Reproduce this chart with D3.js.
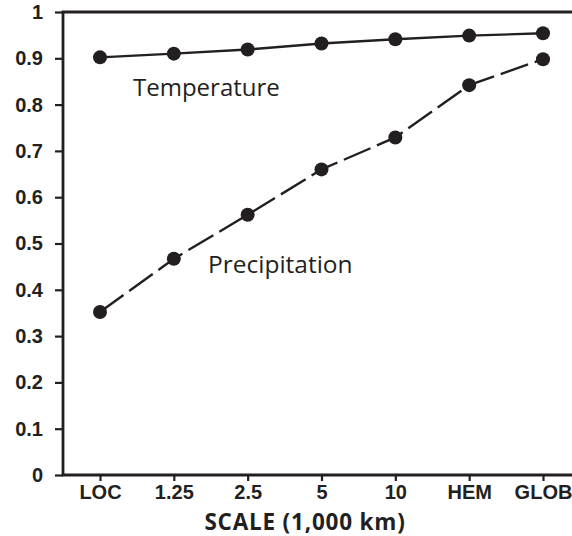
<!DOCTYPE html>
<html>
<head>
<meta charset="utf-8">
<script src="https://cdn.jsdelivr.net/npm/d3@7"></script>
<style>
  body { margin: 0; background: #fff; }
  svg { font-family: "Open Sans", "Noto Sans", sans-serif; }
  .tick text { font-weight: bold; font-size: 20px; fill: #231f20; }
</style>
</head>
<body>
<svg width="572" height="536"></svg>
<script>
"use strict";

const scales = ["LOC", "1.25", "2.5", "5", "10", "HEM", "GLOB"];
const temperature = [0.902, 0.910, 0.919, 0.932, 0.941, 0.949, 0.954];
const precipitation = [0.352, 0.467, 0.562, 0.660, 0.729, 0.842, 0.898];
const yTicks = [0, 0.1, 0.2, 0.3, 0.4, 0.5, 0.6, 0.7, 0.8, 0.9, 1];

const ink = "#231f20";
const svg = d3.select("svg");
const plotLeft = 63, plotRight = 572, plotTop = 12, plotBottom = 475;

const x = d3.scalePoint()
    .domain(scales)
    .range([100, 543]);

const y = d3.scaleLinear()
    .domain([0, 1])
    .range([plotBottom, plotTop]);

// axes
const yAxis = svg.append("g")
    .attr("transform", `translate(${plotLeft},0)`)
    .call(d3.axisLeft(y).tickValues(yTicks).tickFormat(d3.format("")).tickSize(8).tickPadding(12));

const xAxis = svg.append("g")
    .attr("transform", `translate(0,${plotBottom})`)
    .call(d3.axisBottom(x).tickSize(6).tickPadding(4));

[yAxis, xAxis].forEach(g => {
    g.select(".domain").remove();
    g.selectAll(".tick line").attr("stroke", ink).attr("stroke-width", 2.2);
});

// frame: top, left and bottom lines
svg.append("path")
    .attr("d", `M${plotRight},${plotTop}H${plotLeft}V${plotBottom}H${plotRight}`)
    .attr("fill", "none")
    .attr("stroke", ink)
    .attr("stroke-width", 2.8);

const line = d3.line()
    .x((d, i) => x(scales[i]))
    .y(d => y(d));

svg.append("path")
    .datum(temperature)
    .attr("d", line)
    .attr("fill", "none")
    .attr("stroke", ink)
    .attr("stroke-width", 2.4);

svg.append("path")
    .datum(precipitation)
    .attr("d", line)
    .attr("fill", "none")
    .attr("stroke", ink)
    .attr("stroke-width", 2.4)
    .attr("stroke-dasharray", "29,7");

[temperature, precipitation].forEach(series => {
    svg.append("g").selectAll("circle")
        .data(series)
        .enter().append("circle")
        .attr("cx", (d, i) => x(scales[i]))
        .attr("cy", d => y(d))
        .attr("r", 7)
        .attr("fill", ink);
});

svg.append("text")
    .attr("x", 133)
    .attr("y", 96)
    .attr("font-size", 24)
    .attr("fill", ink)
    .text("Temperature");

svg.append("text")
    .attr("x", 208)
    .attr("y", 273)
    .attr("font-size", 24.5)
    .attr("fill", ink)
    .text("Precipitation");

svg.append("text")
    .attr("x", 305)
    .attr("y", 529.5)
    .attr("text-anchor", "middle")
    .attr("font-size", 22.5)
    .attr("letter-spacing", 0.8)
    .attr("font-weight", "bold")
    .attr("fill", ink)
    .text("SCALE (1,000 km)");
</script>
</body>
</html>
